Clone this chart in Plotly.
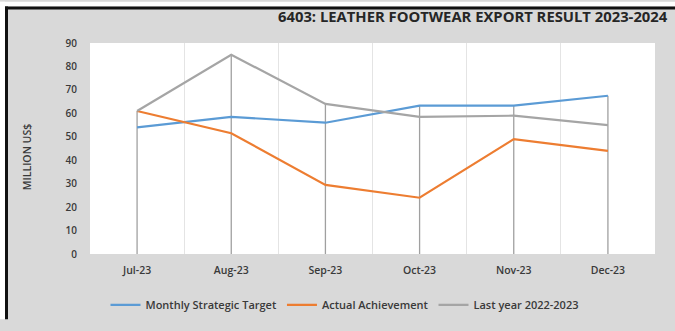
import plotly.graph_objects as go

months = ["Jul-23", "Aug-23", "Sep-23", "Oct-23", "Nov-23", "Dec-23"]
target = [54, 58.5, 56, 63.3, 63.3, 67.5]
actual = [61, 51.5, 29.5, 24, 49, 44]
last_year = [61, 85, 64, 58.5, 59, 55]
y_ticks = [0, 10, 20, 30, 40, 50, 60, 70, 80, 90]

W, H = 675, 331
L, R, T, B = 90, 20, 43, 68
pw, ph = W - L - R, H - T - B


def px(x):
    return (x - L) / pw


def py(y):
    return (H - B - y) / ph


FONT = "Open Sans"
TXT = "#3a3a3a"
xs = list(range(len(months)))

fig = go.Figure()

# drop lines from the highest series value down to the axis
drop_x, drop_y = [], []
for i in xs:
    top = max(target[i], actual[i], last_year[i])
    drop_x += [i, i, None]
    drop_y += [0, top, None]
fig.add_trace(go.Scatter(x=drop_x, y=drop_y, mode="lines",
                         line=dict(color="#a0a0a0", width=1.3),
                         showlegend=False, hoverinfo="skip"))

series = [
    ("Monthly Strategic Target", target, "#5b9bd5"),
    ("Actual Achievement", actual, "#ed7d31"),
    ("Last year 2022-2023", last_year, "#a5a5a5"),
]
for name, vals, color in series:
    fig.add_trace(go.Scatter(x=xs, y=vals, mode="lines", name=name,
                             line=dict(color=color, width=2.2)))

fig.update_layout(
    width=W, height=H,
    margin=dict(l=L, r=R, t=T, b=B, pad=0),
    paper_bgcolor="#d9d9d9",
    plot_bgcolor="#ffffff",
    font=dict(family=FONT, size=9, color=TXT, weight=600),
    xaxis=dict(
        range=[-0.5, len(months) - 0.5],
        tickvals=xs, ticktext=months,
        showgrid=False, zeroline=False, showline=False,
        ticks="", ticklabelstandoff=8,
        tickfont=dict(size=10.5),
        minor=dict(tickvals=[i + 0.5 for i in xs[:-1]], showgrid=True,
                   gridcolor="#e4e4e4", gridwidth=1),
        fixedrange=True,
    ),
    yaxis=dict(
        range=[0, 90], tickvals=y_ticks,
        showgrid=False, zeroline=False, showline=False,
        ticks="", ticklabelstandoff=12,
        tickfont=dict(size=10),
    ),
    legend=dict(orientation="h", x=px(345), xanchor="center",
                y=py(316), yanchor="middle",
                font=dict(size=11, color=TXT, weight=600),
                bgcolor="rgba(0,0,0,0)"),
    showlegend=True,
)

fig.add_annotation(text="<b>6403: LEATHER FOOTWEAR EXPORT RESULT 2023-2024</b>",
                   xref="paper", yref="paper", x=px(670), y=py(15),
                   xanchor="right", yanchor="middle", showarrow=False,
                   font=dict(family=FONT, size=14.8, color="#262626"))
fig.add_annotation(text="MILLION US$", textangle=-90,
                   xref="paper", yref="paper", x=px(27), y=py(162),
                   xanchor="center", yanchor="middle", showarrow=False,
                   font=dict(family=FONT, size=10.5, color=TXT, weight=600))

# frame: white outer edge and dark border along top and left
fig.add_shape(type="rect", xref="paper", yref="paper", x0=px(0), x1=px(5),
              y0=py(H), y1=py(0), fillcolor="#ffffff", line_width=0, layer="above")
fig.add_shape(type="rect", xref="paper", yref="paper", x0=px(0), x1=px(W),
              y0=py(5), y1=py(0), fillcolor="#ffffff", line_width=0, layer="above")
fig.add_shape(type="line", xref="paper", yref="paper", x0=px(6.5), x1=px(6.5),
              y0=py(H), y1=py(5), line=dict(color="#111111", width=3), layer="above")
fig.add_shape(type="line", xref="paper", yref="paper", x0=px(5), x1=px(W),
              y0=py(6.5), y1=py(6.5), line=dict(color="#111111", width=3), layer="above")

fig.write_html("out.html")
